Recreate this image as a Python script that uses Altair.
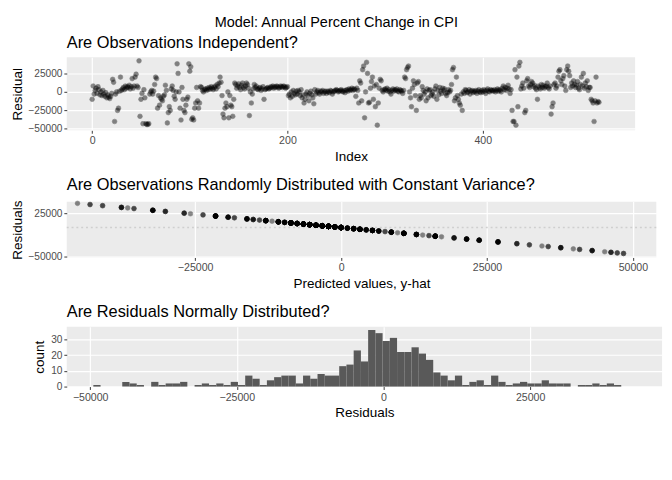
import altair as alt
import pandas as pd

residual_k = [
    -10, 8, -3, 2, 5, -2, 7, 3, -4, 0,
    -5, 2, -3, -6, -1, -8, -4, -7, -9, -6,
    -2, 17, 13, -40, -3, 0, -25, -22, 1, 20,
    2, 4, 6, 3, 8, 5, 7, 6, 9, 4,
    7, 18, 5, 8, 20, 24, 8, 6, 42, -33,
    -10, -2, -43, 3, -8, -43, -44, -44, -43, -3,
    0, 2, -3, 1, 10, 20, 18, -22, -5, -18,
    -8, -10, -12, -6, -4, 9, 2, -42, -28, -20,
    -25, 4, 8, 2, -6, -10, 0, 38, 25, 0,
    -22, -38, 6, -10, -25, -28, -18, -10, -7, 38,
    28, 34, -37, -35, -38, -22, -15, 6, -12, -22,
    -15, 7, 6, 2, 0, 3, 4, 2, 5, 3,
    6, 4, 7, 5, 3, 6, 8, 4, 10, 7,
    12, 20, 13, -5, -30, -35, -22, -15, -20, 0,
    -35, -5, -18, -20, -33, -10, 12, 10, 5, 8,
    11, 6, 3, 9, 12, 6, 4, 8, 12, 10,
    5, -32, 0, -15, -3, 4, 10, 6, 8, 4,
    3, 5, 6, 2, 4, 7, -10, 3, 4, 5,
    6, 4, 5, 7, 6, 8, 5, 7, 6, 8,
    7, 5, 6, 8, 7, 6, 8, 7, 5, 6,
    7, -5, -3, -8, 0, -6, 2, -2, -4, 1,
    -3, 2, 0, -5, 3, -8, -4, -15, -10, -3,
    0, -5, -12, -2, 1, -4, -8, -16, 3, -3,
    0, 2, -1, -3, 1, 0, 2, -2, 0, 1,
    -2, 1, 0, -1, 2, 1, -3, 0, 1, 2,
    3, 2, 0, 1, 2, 3, 1, 0, 2, -1,
    2, 3, 1, 4, 2, 3, 5, 2, 4, 3,
    -6, 5, 2, -15, 15, 12, -12, 30, 35, -35,
    0, 40, 25, -15, -14, 5, 14, 20, -10, 8,
    -20, 10, -45, -15, 5, 17, 15, 2, 0, 3,
    4, 2, 5, 1, 3, 0, -3, 2, 4, 1,
    3, 2, 4, 1, 0, 3, 2, 1, -2, 2,
    20, 18, 30, 33, 35, 0, -8, -20, 5, 15,
    10, -5, -25, 12, 14, -10, -5, -8, 7, 2,
    -3, 0, -12, 4, -8, 2, 3, -5, -3, 0,
    -6, 4, 8, -10, 2, -4, 6, 1, -2, 5,
    2, 4, -2, -5, -1, 3, 0, 2, 10, 30,
    33, -12, -8, 20, -5, -10, -15, -18, -3, -25,
    0, -2, 3, 2, -1, 0, 3, -3, 1, 2,
    -1, 1, 0, 2, -2, 1, 3, 0, -1, 2,
    0, 3, 1, -2, 2, 4, 1, 0, 3, 2,
    2, 1, 3, 0, 2, 4, 1, 3, 2, 0,
    5, 8, 3, 6, 2, 5, 9, 4, -2, 3,
    -25, -40, -40, 30, -45, 20, -20, 35, 40, 4,
    8, 12, 5, -28, -25, 15, 18, 8, 6, 10,
    14, 12, 7, 9, 5, 3, -10, 8, 6, 4,
    10, 6, 9, 5, 7, 8, 12, 6, 4, 8,
    -30, -20, -15, 10, 12, 5, 8, 20, 28, 30,
    15, 10, 18, 22, 8, 2, 30, 35, 28, 22,
    6, 12, 8, 15, 10, 6, 9, 14, 5, 3,
    10, 20, 8, 25, 5, 12, 7, 15, 2, 6,
    6, -10, -12, -15, -40, -12, 20, -15, -13, -14,
]
residual = [v * 1000 for v in residual_k]

# histogram of residuals: bin counts
bin_start = -49470
bin_width = 1233
bin_counts = [
    1, 0, 0, 0, 3, 2, 1, 0, 3, 1, 2, 2, 3, 0, 1, 2, 1, 2, 1, 3,
    1, 7, 5, 1, 4, 6, 7, 7, 2, 7, 5, 8, 7, 7, 13, 14, 23, 16, 36, 34,
    29, 31, 22, 22, 25, 21, 17, 9, 7, 4, 7, 1, 3, 4, 1, 7, 3, 1, 2, 3,
    2, 2, 4, 2, 2, 2, 0, 1, 1, 2, 1, 2, 1,
]

df = pd.DataFrame({"Index": range(len(residual)), "Residual": residual})
hist = pd.DataFrame({
    "lo": [bin_start + i * bin_width for i in range(len(bin_counts))],
    "count": bin_counts,
})
hist["hi"] = hist["lo"] + bin_width
hist = hist[hist["count"] > 0]

W = 590
H = 76
pt = dict(color="black", opacity=0.45, size=24, stroke="black", strokeWidth=0.6)
title_font = dict(fontSize=17, font="Liberation Sans", fontWeight="normal",
                  anchor="start", frame="group", offset=6)

p1 = alt.Chart(df).mark_circle(**pt).encode(
    x=alt.X("Index:Q", scale=alt.Scale(domain=[-26, 556], nice=False),
            axis=alt.Axis(values=[0, 200, 400], title="Index")),
    y=alt.Y("Residual:Q", scale=alt.Scale(domain=[-52000, 47000], nice=False),
            axis=alt.Axis(values=[-50000, -25000, 0, 25000], title="Residual", format="d")),
).properties(width=W, height=H, title=alt.TitleParams("Are Observations Independent?", **title_font))

p2_base = alt.Chart(df).transform_calculate(pred="-datum.Residual / 0.93")
p2_pts = p2_base.mark_circle(**pt).encode(
    x=alt.X("pred:Q", scale=alt.Scale(domain=[-47000, 54000], nice=False),
            axis=alt.Axis(values=[-25000, 0, 25000, 50000], title="Predicted values, y-hat", format="d")),
    y=alt.Y("Residual:Q", scale=alt.Scale(domain=[-52000, 45000], nice=False),
            axis=alt.Axis(values=[-50000, -25000, 0, 25000], title="Residuals", format="d")),
)
p2_rule = alt.Chart(pd.DataFrame({"y": [0]})).mark_rule(color="#cfcfcf", strokeDash=[2, 3], strokeWidth=1.5).encode(y="y:Q")
p2 = (p2_rule + p2_pts).properties(
    width=W + 22, height=H - 18,
    title=alt.TitleParams("Are Observations Randomly Distributed with Constant Variance?", **title_font))

p3 = alt.Chart(hist).mark_rect(color="#595959").encode(
    x=alt.X("lo:Q", scale=alt.Scale(domain=[-54000, 47500], nice=False),
            axis=alt.Axis(values=[-50000, -25000, 0, 25000], title="Residuals", format="d")),
    x2="hi:Q",
    y=alt.Y("count:Q", scale=alt.Scale(domain=[0, 38], nice=False),
            axis=alt.Axis(values=[0, 10, 20, 30], title="count")),
    y2=alt.datum(0),
).properties(width=W + 28, height=H - 14,
             title=alt.TitleParams("Are Residuals Normally Distributed?", **title_font))

chart = alt.vconcat(p1, p2, p3, spacing=14).properties(
    title=alt.TitleParams("Model: Annual Percent Change in CPI", fontSize=15,
                          font="Liberation Sans", fontWeight="normal", anchor="middle"),
    padding={"left": 2, "top": 0, "right": 2, "bottom": 2},
).configure_view(fill="#ebebeb", stroke=None).configure_axis(
    grid=True, gridColor="white", gridWidth=1.2, domain=False,
    tickColor="#333", tickSize=3, labelColor="#4d4d4d", labelFontSize=11,
    labelFont="Liberation Sans", titleFont="Liberation Sans", titleFontSize=14,
    titleFontWeight="normal", titleColor="black", labelPadding=2, labelOverlap=False,
).configure_axisY(labelFontSize=10.5)

chart.save("out.html", embed_options={"renderer": "svg", "actions": False})
